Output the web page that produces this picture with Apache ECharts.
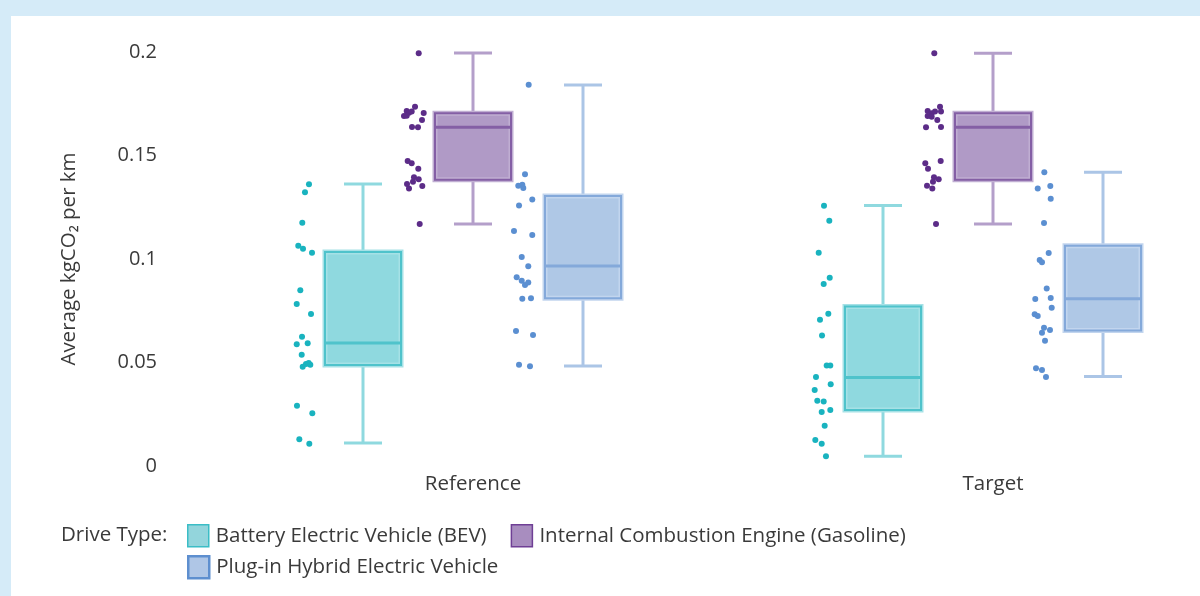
<!DOCTYPE html>
<html>
<head>
<meta charset="utf-8">
<script src="https://cdn.jsdelivr.net/npm/echarts@6/dist/echarts.min.js"></script>
<style>
  html, body { margin: 0; padding: 0; background: #d5ebf8; }
  #chart { position: absolute; left: 11px; top: 16px; width: 1189px; height: 580px; background: #fff; }
</style>
</head>
<body>
<div id="chart"></div>
<script>
// scenario groups on the x axis
const groups = ['Reference', 'Target'];
const groupX = [1, 2];
const yTicks = [0, 0.05, 0.1, 0.15, 0.2];

// box summaries: [groupX, min, q1, median, q3, max]
const bevBox = [[1, 0.0111, 0.0488, 0.0594, 0.1034, 0.1362], [2, 0.0047, 0.0271, 0.0428, 0.0770, 0.1258]];
const iceBox = [[1, 0.1169, 0.1383, 0.1636, 0.1704, 0.1995], [2, 0.1169, 0.1383, 0.1636, 0.1704, 0.1994]];
const phevBox = [[1, 0.0483, 0.0810, 0.0966, 0.1304, 0.1841], [2, 0.0432, 0.0655, 0.0808, 0.1064, 0.1419]];

// individual observations (values) and their horizontal jitter around the group
const bevRefVals = [0.1361, 0.1322, 0.1175, 0.1064, 0.1050, 0.1030, 0.0849, 0.0783, 0.0734, 0.0624, 0.0588, 0.0593, 0.0538, 0.0480, 0.0493, 0.0498, 0.0489, 0.0291, 0.0255, 0.0129, 0.0108];
const bevRefJit = [-0.3154, -0.3231, -0.3283, -0.3360, -0.3269, -0.3096, -0.3321, -0.3390, -0.3115, -0.3288, -0.3390, -0.3179, -0.3294, -0.3275, -0.3212, -0.3160, -0.3129, -0.3385, -0.3090, -0.3340, -0.3148];
const iceRefVals = [0.1994, 0.1736, 0.1715, 0.1707, 0.1712, 0.1691, 0.1692, 0.1705, 0.1671, 0.1638, 0.1636, 0.1473, 0.1462, 0.1436, 0.1395, 0.1385, 0.1362, 0.1373, 0.1340, 0.1353, 0.1169];
const iceRefJit = [-0.1044, -0.1115, -0.1275, -0.1231, -0.1179, -0.1327, -0.1275, -0.0948, -0.0981, -0.1173, -0.1058, -0.1256, -0.1179, -0.1052, -0.1135, -0.1044, -0.1269, -0.1154, -0.1231, -0.0975, -0.1025];
const phevRefVals = [0.1842, 0.1409, 0.1354, 0.1359, 0.1343, 0.1288, 0.1258, 0.1135, 0.1116, 0.1010, 0.0965, 0.0912, 0.0895, 0.0874, 0.0886, 0.0808, 0.0810, 0.0652, 0.0633, 0.0489, 0.0482];
const phevRefJit = [0.1071, 0.1000, 0.0871, 0.0948, 0.0967, 0.1140, 0.0885, 0.0788, 0.1140, 0.0937, 0.1063, 0.0840, 0.0937, 0.1000, 0.1063, 0.0948, 0.1115, 0.0827, 0.1154, 0.0885, 0.1096];

const bevTgtVals = [0.1257, 0.1185, 0.1030, 0.0910, 0.0879, 0.0736, 0.0707, 0.0631, 0.0485, 0.0485, 0.0430, 0.0395, 0.0367, 0.0315, 0.0311, 0.0261, 0.0271, 0.0195, 0.0126, 0.0108, 0.0047];
const bevTgtJit = [-0.3250, -0.3148, -0.3352, -0.3140, -0.3256, -0.3167, -0.3327, -0.3288, -0.3198, -0.3129, -0.3404, -0.3121, -0.3429, -0.3379, -0.3256, -0.3294, -0.3129, -0.3237, -0.3417, -0.3294, -0.3212];
const iceTgtVals = [0.1994, 0.1736, 0.1715, 0.1704, 0.1712, 0.1712, 0.1691, 0.1687, 0.1671, 0.1636, 0.1638, 0.1473, 0.1462, 0.1436, 0.1395, 0.1385, 0.1354, 0.1373, 0.1340, 0.1169];
const iceTgtJit = [-0.1129, -0.1019, -0.1256, -0.1179, -0.1115, -0.1000, -0.1256, -0.1179, -0.1071, -0.1288, -0.1000, -0.1006, -0.1302, -0.1250, -0.1135, -0.1044, -0.1269, -0.1154, -0.1167, -0.1096];
const phevTgtVals = [0.1419, 0.1340, 0.1353, 0.1291, 0.1174, 0.1029, 0.0995, 0.0984, 0.0858, 0.0807, 0.0812, 0.0765, 0.0733, 0.0725, 0.0668, 0.0644, 0.0657, 0.0605, 0.0472, 0.0464, 0.0430];
const phevTgtJit = [0.0987, 0.0860, 0.1102, 0.1110, 0.0981, 0.1071, 0.0898, 0.0942, 0.1033, 0.0813, 0.1110, 0.1129, 0.0802, 0.0860, 0.0981, 0.0942, 0.1096, 0.1000, 0.0827, 0.0942, 0.1019];

const names = ['Battery Electric Vehicle (BEV)', 'Internal Combustion Engine (Gasoline)', 'Plug-in Hybrid Electric Vehicle'];

const FONT = '"Open Sans", Lato, sans-serif';
const TXT = '#3a3a3a';
const FS = 20.5;

function points(gx, vals, jit) {
  return vals.map((v, i) => [gx + jit[i], v]);
}

// box + whisker drawn with the axis scales
function boxRenderer(offsetPx, c) {
  return function (params, api) {
    const x = api.value(0);
    const lo = api.coord([x, api.value(1)]);
    const q1 = api.coord([x, api.value(2)]);
    const md = api.coord([x, api.value(3)]);
    const q3 = api.coord([x, api.value(4)]);
    const hi = api.coord([x, api.value(5)]);
    const cx = lo[0] + offsetPx;
    const bw = 76, cw = 38;
    const wStyle = { stroke: c.whisker, lineWidth: 3 };
    return {
      type: 'group',
      children: [
        { type: 'line', shape: { x1: cx, y1: hi[1], x2: cx, y2: q3[1] }, style: wStyle },
        { type: 'line', shape: { x1: cx, y1: q1[1], x2: cx, y2: lo[1] }, style: wStyle },
        { type: 'line', shape: { x1: cx - cw / 2, y1: hi[1], x2: cx + cw / 2, y2: hi[1] }, style: wStyle },
        { type: 'line', shape: { x1: cx - cw / 2, y1: lo[1], x2: cx + cw / 2, y2: lo[1] }, style: wStyle },
        { type: 'rect', shape: { x: cx - bw / 2, y: q3[1], width: bw, height: q1[1] - q3[1] },
          style: { fill: c.fill, stroke: c.halo, lineWidth: 5 } },
        { type: 'rect', shape: { x: cx - bw / 2, y: q3[1], width: bw, height: q1[1] - q3[1] },
          style: { fill: 'none', stroke: c.border, lineWidth: 2 } },
        { type: 'line', shape: { x1: cx - bw / 2, y1: md[1], x2: cx + bw / 2, y2: md[1] },
          style: { stroke: c.border, lineWidth: 3 } }
      ]
    };
  };
}

const bevC = { fill: '#8fd9df', border: '#4fc3cb', halo: '#a6e1e6', whisker: '#8fd9df', dot: '#19b3bf' };
const iceC = { fill: '#b09ac6', border: '#845fa5', halo: '#c0aed2', whisker: '#b49fca', dot: '#5c2c88' };
const phevC = { fill: '#afc8e6', border: '#84a9da', halo: '#c2d5ee', whisker: '#abc5e6', dot: '#5b8fd1' };

const chart = echarts.init(document.getElementById('chart'));

chart.setOption({
  animation: false,
  backgroundColor: '#fff',
  textStyle: { fontFamily: FONT },
  grid: { left: 202, right: 51, top: 36, bottom: 130 },
  xAxis: {
    type: 'value',
    min: 0.5,
    max: 2.3,
    interval: 0.5,
    splitLine: { show: false },
    axisLine: { show: false },
    axisTick: { show: false },
    axisLabel: {
      margin: 8,
      fontSize: FS,
      color: TXT,
      fontFamily: FONT,
      showMaxLabel: false,
      formatter: function (v) {
        const i = groupX.indexOf(v);
        return i >= 0 ? groups[i] : '';
      }
    }
  },
  yAxis: {
    type: 'value',
    min: yTicks[0],
    max: yTicks[yTicks.length - 1],
    interval: 0.05,
    name: 'Average kgCO₂ per km',
    nameLocation: 'middle',
    nameGap: 133,
    nameTextStyle: { fontSize: FS, color: TXT, fontFamily: FONT },
    splitLine: { show: false },
    axisLine: { show: false },
    axisTick: { show: false },
    axisLabel: { margin: 56, fontSize: 20, color: TXT, fontFamily: FONT }
  },
  graphic: [{
    type: 'text',
    style: { x: 50, y: 519, text: 'Drive Type:', font: FS + 'px ' + FONT, fill: TXT, verticalAlign: 'middle' }
  }],
  legend: [{
    left: 176,
    top: 508,
    padding: 0,
    itemWidth: 21,
    itemHeight: 22,
    itemGap: 24,
    selectedMode: false,
    textStyle: { fontSize: FS, color: TXT, fontFamily: FONT, padding: [0, 0, 0, 2] },
    data: [
      { name: names[0], icon: 'rect', itemStyle: { color: '#93d5dc', borderColor: '#3bbdc6', borderWidth: 1.5 } },
      { name: names[1], icon: 'rect', itemStyle: { color: '#a88dbf', borderColor: '#6f3f95', borderWidth: 1.5 } }
    ]
  }, {
    left: 176,
    top: 539,
    padding: 0,
    itemWidth: 21,
    itemHeight: 22,
    selectedMode: false,
    textStyle: { fontSize: FS, color: TXT, fontFamily: FONT, padding: [0, 0, 0, 2] },
    data: [
      { name: names[2], icon: 'rect', itemStyle: { color: '#afc6e6', borderColor: '#5e8fcf', borderWidth: 2.5 } }
    ]
  }],
  series: [
    { type: 'custom', name: names[0], data: bevBox, encode: { x: 0, y: [1, 2, 3, 4, 5] }, renderItem: boxRenderer(-110, bevC), z: 2 },
    { type: 'custom', name: names[1], data: iceBox, encode: { x: 0, y: [1, 2, 3, 4, 5] }, renderItem: boxRenderer(0, iceC), z: 2 },
    { type: 'custom', name: names[2], data: phevBox, encode: { x: 0, y: [1, 2, 3, 4, 5] }, renderItem: boxRenderer(110, phevC), z: 2 },
    { type: 'scatter', name: names[0], symbolSize: 6, itemStyle: { color: bevC.dot, opacity: 1 }, z: 3,
      data: points(1, bevRefVals, bevRefJit).concat(points(2, bevTgtVals, bevTgtJit)) },
    { type: 'scatter', name: names[1], symbolSize: 6, itemStyle: { color: iceC.dot, opacity: 1 }, z: 3,
      data: points(1, iceRefVals, iceRefJit).concat(points(2, iceTgtVals, iceTgtJit)) },
    { type: 'scatter', name: names[2], symbolSize: 6, itemStyle: { color: phevC.dot, opacity: 1 }, z: 3,
      data: points(1, phevRefVals, phevRefJit).concat(points(2, phevTgtVals, phevTgtJit)) }
  ]
});
</script>
</body>
</html>
